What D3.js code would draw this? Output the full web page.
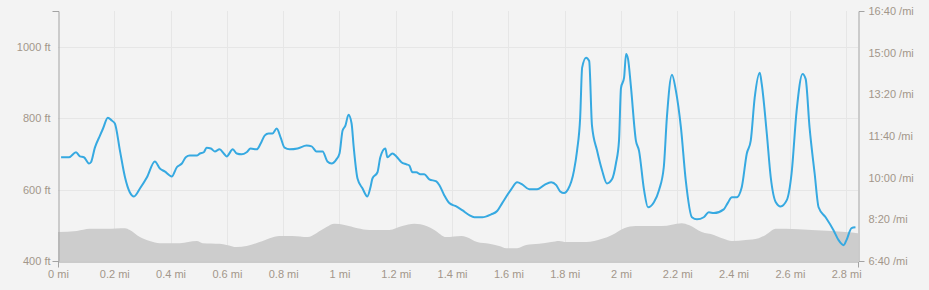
<!DOCTYPE html>
<html>
<head>
<meta charset="utf-8">
<script src="https://cdn.jsdelivr.net/npm/d3@7"></script>
<style>
  html, body { margin: 0; padding: 0; background: #f3f3f3; }
  svg { display: block; }
  .axis text { font-family: "Liberation Sans", Arial, sans-serif; font-size: 11px; fill: #a2968a; }
  .axis path, .axis line { stroke: #a3a3a3; }
</style>
</head>
<body>
<svg id="chart"></svg>
<script>
// distance (mi) / pace (seconds per mile)
const paceMiles = [0.011,0.039,0.064,0.078,0.092,0.110,0.117,0.131,0.149,0.160,0.177,0.191,0.202,0.220,0.238,0.255,0.270,0.291,0.316,0.344,0.362,0.379,0.404,0.422,0.440,0.454,0.468,0.493,0.504,0.518,0.528,0.543,0.557,0.574,0.589,0.599,0.621,0.635,0.652,0.670,0.684,0.706,0.720,0.734,0.748,0.762,0.777,0.791,0.805,0.823,0.851,0.883,0.901,0.918,0.940,0.957,0.972,0.989,1.000,1.011,1.021,1.032,1.043,1.050,1.064,1.082,1.099,1.110,1.117,1.135,1.145,1.163,1.170,1.188,1.202,1.220,1.238,1.248,1.259,1.273,1.287,1.301,1.319,1.344,1.355,1.372,1.390,1.415,1.436,1.461,1.479,1.507,1.539,1.560,1.578,1.610,1.631,1.649,1.674,1.702,1.727,1.752,1.770,1.784,1.798,1.812,1.833,1.844,1.855,1.862,1.876,1.887,1.897,1.915,1.933,1.950,1.968,1.982,1.993,2.000,2.011,2.018,2.025,2.035,2.053,2.064,2.082,2.096,2.117,2.135,2.152,2.163,2.181,2.195,2.213,2.230,2.252,2.270,2.294,2.312,2.330,2.365,2.379,2.394,2.411,2.429,2.447,2.461,2.475,2.493,2.500,2.518,2.532,2.550,2.567,2.589,2.606,2.624,2.645,2.656,2.670,2.688,2.702,2.727,2.755,2.773,2.791,2.801,2.819,2.833];
const paceSecs = [649,649,661,651,649,634,637,672,701,718,744,737,730,665,601,565,555,574,601,639,622,615,603,625,634,649,653,653,658,661,672,670,663,668,658,651,668,658,656,661,670,668,682,701,706,706,718,696,672,668,670,677,675,663,663,639,634,644,658,713,725,751,730,677,598,574,555,577,598,613,649,670,649,658,651,637,632,629,613,613,608,608,596,591,582,558,539,531,522,510,505,505,512,520,539,572,589,584,572,572,582,589,582,567,563,572,617,665,744,864,888,880,725,665,617,586,596,634,689,815,840,897,885,821,689,665,570,529,541,570,625,744,847,809,720,594,505,500,505,517,515,524,539,553,553,577,658,689,792,852,825,706,601,541,531,546,610,761,849,837,720,610,529,505,474,450,438,450,479,481];

// distance (mi) / elevation (ft)
const elevMiles = [0.000,0.067,0.113,0.174,0.238,0.255,0.291,0.326,0.362,0.433,0.493,0.514,0.574,0.599,0.635,0.670,0.716,0.752,0.787,0.833,0.887,0.918,0.954,0.982,1.018,1.064,1.106,1.177,1.223,1.266,1.309,1.337,1.379,1.433,1.450,1.489,1.532,1.567,1.592,1.631,1.663,1.709,1.752,1.780,1.805,1.876,1.933,1.968,2.011,2.053,2.145,2.216,2.241,2.287,2.330,2.365,2.394,2.443,2.489,2.514,2.550,2.585,2.677,2.748,2.798,2.842];
const elevFeet = [481,484,490,490,492,487,467,456,450,450,456,450,448,445,439,442,453,464,470,470,467,478,495,504,501,492,487,487,498,504,498,487,467,470,467,453,448,442,436,436,445,448,453,456,453,453,462,473,492,498,498,506,501,481,473,462,456,459,464,473,490,490,487,484,481,478];

const mileTicks = [0,0.2,0.4,0.6,0.8,1,1.2,1.4,1.6,1.8,2,2.2,2.4,2.6,2.8];
const feetTicks = [400,600,800,1000];
const paceTicks = [400,500,600,700,800,900,1000];

const W = 929, H = 290;
const plotL = 58, plotR = 858, plotT = 11, plotB = 261;

const svg = d3.select('#chart').attr('width', W).attr('height', H);

const x = d3.scaleLinear().domain([0, 2.842]).range([plotL, plotR]);
const yFt = d3.scaleLinear().domain([400, 1100]).range([plotB, plotT]);
const yPace = d3.scaleLinear().domain([400, 1000]).range([plotB, plotT]);

const fmtPace = s => Math.floor(s / 60) + ':' + String(Math.round(s % 60)).padStart(2, '0') + ' /mi';

// grid
const grid = svg.append('g').attr('stroke', '#e6e6e6').attr('stroke-width', 1);
grid.selectAll('.v').data(mileTicks.slice(1))
  .enter().append('line')
  .attr('x1', d => Math.round(x(d)) + 0.5).attr('x2', d => Math.round(x(d)) + 0.5)
  .attr('y1', plotT).attr('y2', plotB);
grid.selectAll('.h').data(feetTicks.slice(1))
  .enter().append('line')
  .attr('x1', plotL).attr('x2', plotR)
  .attr('y1', d => Math.round(yFt(d)) + 0.5).attr('y2', d => Math.round(yFt(d)) + 0.5);

// elevation area
const elev = elevMiles.map((m, i) => ({m: m, v: elevFeet[i]}));
svg.append('path')
  .datum(elev)
  .attr('fill', '#cdcdcd')
  .attr('d', d3.area().x(d => x(d.m)).y0(plotB).y1(d => yFt(d.v)).curve(d3.curveMonotoneX));

// pace line
const pace = paceMiles.map((m, i) => ({m: m, v: paceSecs[i]}));
svg.append('path')
  .datum(pace)
  .attr('fill', 'none')
  .attr('stroke', '#36a9e1')
  .attr('stroke-width', 2)
  .attr('stroke-linejoin', 'round')
  .attr('d', d3.line().x(d => x(d.m)).y(d => yPace(d.v)).curve(d3.curveMonotoneX));

// axes
svg.append('g').attr('class', 'axis')
  .attr('transform', `translate(${plotL + 0.5},0)`)
  .call(d3.axisLeft(yFt).tickValues(feetTicks).tickFormat(d => d + ' ft')
    .tickSizeInner(0).tickSizeOuter(6).tickPadding(8));

svg.append('g').attr('class', 'axis')
  .attr('transform', `translate(${plotR + 0.5},0)`)
  .call(d3.axisRight(yPace).tickValues(paceTicks).tickFormat(fmtPace)
    .tickSizeInner(0).tickSizeOuter(6).tickPadding(10));

svg.append('g').attr('class', 'axis')
  .attr('transform', `translate(0,${plotB + 0.5})`)
  .call(d3.axisBottom(x).tickValues(mileTicks).tickFormat(d => d + ' mi')
    .tickSizeInner(0).tickSizeOuter(6).tickPadding(9));
</script>
</body>
</html>
